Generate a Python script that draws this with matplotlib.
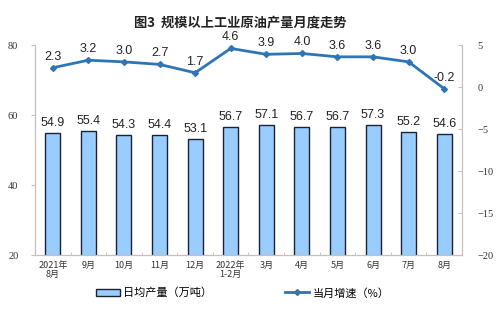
import matplotlib
matplotlib.use('Agg')
from matplotlib import pyplot as plt
import numpy as np

plt.rcParams['font.family'] = ['Noto Sans CJK SC', 'DejaVu Sans']

months = ['2021年\n8月', '9月', '10月', '11月', '12月', '2022年\n1-2月',
          '3月', '4月', '5月', '6月', '7月', '8月']
output = [54.9, 55.4, 54.3, 54.4, 53.1, 56.7, 57.1, 56.7, 56.7, 57.3, 55.2, 54.6]
growth = [2.3, 3.2, 3.0, 2.7, 1.7, 4.6, 3.9, 4.0, 3.6, 3.6, 3.0, -0.2]

BAR = '#99CCFF'
EDGE = '#1A2233'
LINE = '#2E75B6'
SPINE = '#C8C0B8'

fig = plt.figure(figsize=(5, 3.22), dpi=100)
ax = fig.add_axes([0.07, 0.208, 0.854, 0.652])
ax2 = ax.twinx()

x = np.arange(len(months))
bars = ax.bar(x, output, width=0.42, color=BAR, edgecolor=EDGE, linewidth=1.0,
              zorder=2, label='日均产量（万吨）')
for xi, v in zip(x, output):
    ax.text(xi, v + 1.1, f'{v:.1f}', ha='center', va='bottom', fontsize=9,
            family='Liberation Sans', color='#222222')

line, = ax2.plot(x, growth, color=LINE, linewidth=2, marker='D', markersize=3,
                 label='当月增速（%）')
for xi, v in zip(x, growth):
    ax2.text(xi, v + 0.6, f'{v:.1f}', ha='center', va='bottom', fontsize=9,
             family='Liberation Sans', color='#222222')

ax.set_xlim(-0.5, len(months) - 0.5)
ax.set_ylim(20, 80)
ax.set_yticks([20, 40, 60, 80])
ax2.set_ylim(-20, 5)
ax2.set_yticks([5, 0, -5, -10, -15, -20])

ax.set_xticks(x)
ax.set_xticklabels(months, fontsize=6.5, color='#333333', linespacing=1.1)
ax.set_xticks(np.arange(-0.5, len(months), 1), minor=True)
ax.tick_params(axis='x', which='major', length=0, pad=4)
ax.tick_params(axis='x', which='minor', length=2, color=SPINE, direction='in')

for a in (ax, ax2):
    a.spines['top'].set_visible(False)
    for side in ('left', 'right', 'bottom'):
        a.spines[side].set_color(SPINE)
        a.spines[side].set_linewidth(0.8)
    a.tick_params(axis='y', length=3, color=SPINE, labelsize=7.5, labelcolor='#333333')
    for lab in a.get_yticklabels():
        lab.set_family('Liberation Serif')

ax.tick_params(axis='y', direction='out', pad=9)
ax2.tick_params(axis='y', direction='in', pad=11)

fig.text(0.48, 0.93, '图3  规模以上工业原油产量月度走势', ha='center', va='center',
         fontsize=9.5, fontweight='bold', color='#222222')

fig.legend(handles=[bars, line], loc='center', bbox_to_anchor=(0.485, 0.09), ncol=2,
           frameon=False, fontsize=8, columnspacing=6.5, handlelength=2.2,
           handletextpad=0.3)

fig.savefig('out.png', dpi=100)
